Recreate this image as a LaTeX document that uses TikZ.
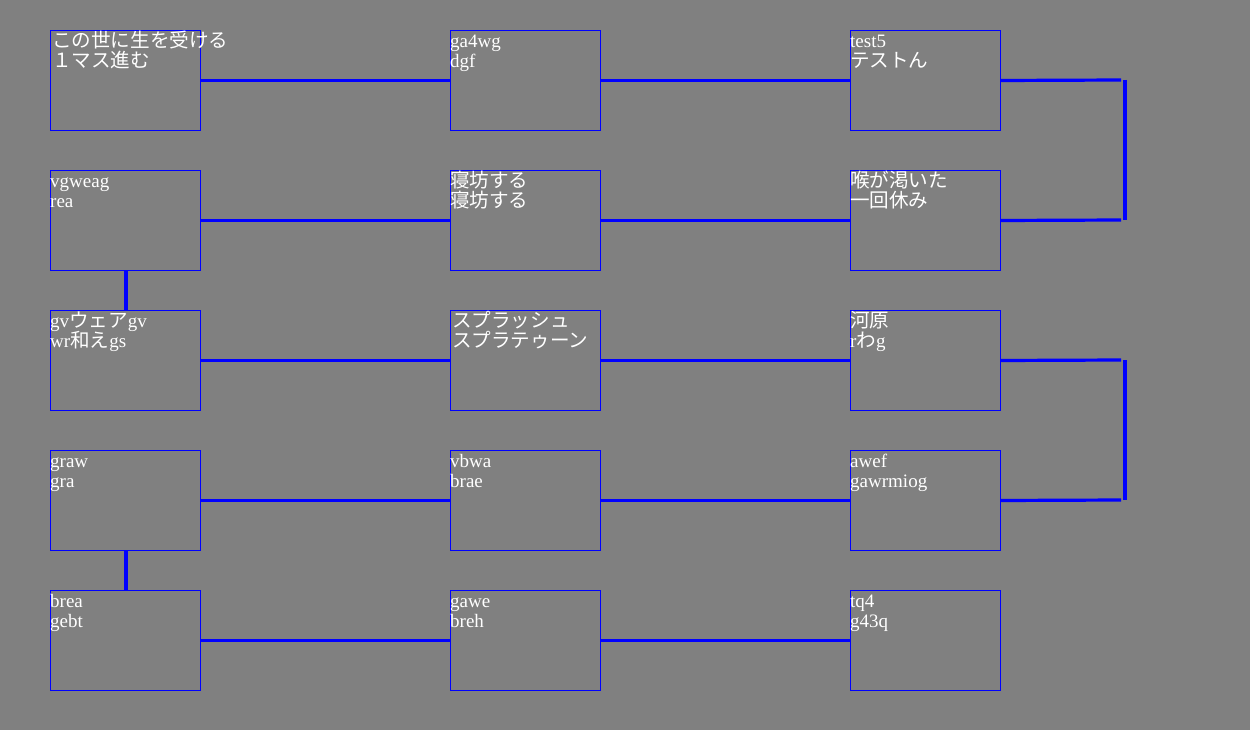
\documentclass[tikz,border=0pt]{standalone}
\usepackage{fontspec}
\setmainfont{Liberation Serif}
\newfontfamily\cjk[Scale=1.03]{Noto Sans CJK JP}
\definecolor{bg}{HTML}{808080}
\definecolor{ln}{HTML}{0000FF}
\newcommand{\firststrut}{\rule{0pt}{18pt}}
\AtBeginDocument{\setlength{\lineskiplimit}{-100pt}}
\tikzset{
  box/.style={draw=ln, line width=1pt, minimum width=150pt, minimum height=100pt, inner sep=0pt, anchor=north west},
  txt/.style={anchor=north west, inner sep=0pt, align=left, text=white, yshift=1pt,
    font=\fontsize{19pt}{20pt}\selectfont},
  hconn/.style={draw=ln, line width=3.2pt},
  vconn/.style={draw=ln, line width=4pt},
}
\begin{document}
\begin{tikzpicture}[x=1pt,y=-1pt]
\fill[bg] (0,0) rectangle (1250,730);
\useasboundingbox (0,0) rectangle (1250,730);
% boxes
\foreach \r/\y in {1/30,2/170,3/310,4/450,5/590}{
  \foreach \c/\x in {1/50,2/450,3/850}{
    \node[box] (b\r\c) at (\x,\y) {};
  }
}
% texts
\node[txt] (t11) at ([xshift=2pt]b11.north west) {\firststrut{\cjk この世に生を受ける}\\{\cjk １マス進む}};
\node[txt] (t12) at (b12.north west) {\firststrut ga4wg\\dgf};
\node[txt] (t13) at (b13.north west) {\firststrut test5\\{\cjk テストん}};
\node[txt] (t21) at (b21.north west) {\firststrut vgweag\\rea};
\node[txt] (t22) at (b22.north west) {\firststrut{\cjk 寝坊する}\\{\cjk 寝坊する}};
\node[txt] (t23) at (b23.north west) {\firststrut{\cjk 喉が渇いた}\\{\cjk 一回休み}};
\node[txt] (t31) at (b31.north west) {\firststrut gv{\cjk ウェア}gv\\wr{\cjk 和え}gs};
\node[txt] (t32) at ([xshift=2pt]b32.north west) {\firststrut{\cjk スプラッシュ}\\{\cjk スプラテゥーン}};
\node[txt] (t33) at (b33.north west) {\firststrut{\cjk 河原}\\r{\cjk わ}g};
\node[txt] (t41) at (b41.north west) {\firststrut graw\\gra};
\node[txt] (t42) at (b42.north west) {\firststrut vbwa\\brae};
\node[txt] (t43) at (b43.north west) {\firststrut awef\\gawrmiog};
\node[txt] (t51) at (b51.north west) {\firststrut brea\\gebt};
\node[txt] (t52) at (b52.north west) {\firststrut gawe\\breh};
\node[txt] (t53) at (b53.north west) {\firststrut tq4\\g43q};
% horizontal connectors
\foreach \r in {1,...,5}{
  \draw[hconn] (b\r1.east) -- (b\r2.west);
  \draw[hconn] (b\r2.east) -- (b\r3.west);
}
% vertical connectors
\draw[vconn] (b21.south) -- (b31.north);
\draw[vconn] (b41.south) -- (b51.north);
% right brackets
\coordinate (ra) at (1125,80);
\coordinate (rb) at (1125,220);
\coordinate (rc) at (1125,360);
\coordinate (rd) at (1125,500);
\draw[hconn] (b13.east) -- ([xshift=-4pt]ra);
\draw[hconn] (b23.east) -- ([xshift=-4pt]rb);
\draw[vconn] (ra) -- (rb);
\draw[hconn] (b33.east) -- ([xshift=-4pt]rc);
\draw[hconn] (b43.east) -- ([xshift=-4pt]rd);
\draw[vconn] (rc) -- (rd);
\end{tikzpicture}
\end{document}
